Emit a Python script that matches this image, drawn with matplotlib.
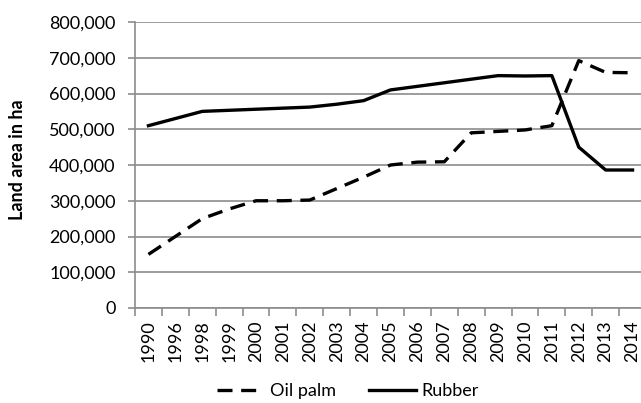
import matplotlib
matplotlib.use("Agg")
import matplotlib.pyplot as plt
import numpy as np

years = ["1990", "1996", "1998", "1999", "2000", "2001", "2002", "2003", "2004", "2005",
         "2006", "2007", "2008", "2009", "2010", "2011", "2012", "2013", "2014"]
oil_palm = [150000, 200000, 250000, 277000, 300000, 300000, 302000, 334000, 366000, 400000,
            408000, 409000, 490000, 494000, 498000, 510000, 692000, 659000, 658000]
rubber = [510000, 530000, 550000, 553000, 556000, 559000, 562000, 570000, 580000, 610000,
          620000, 630000, 640000, 650000, 649000, 650000, 450000, 386000, 386000]
y_ticks = [0, 100000, 200000, 300000, 400000, 500000, 600000, 700000, 800000]

plt.rcParams['font.family'] = ['Lato', 'DejaVu Sans']

W, H = 641, 403
fig = plt.figure(figsize=(W / 100, H / 100), dpi=100)
left, right, top, bottom = 135, 646, 22, 308
ax = fig.add_axes([left / W, 1 - bottom / H, (right - left) / W, (bottom - top) / H])

x = np.arange(len(years))
grid_c = "#8c8c8c"
fs = 13
ax.plot(x, oil_palm, color="black", lw=2.4, dashes=(4.5, 2.6), label="Oil palm",
        dash_capstyle="butt")
ax.plot(x, rubber, color="black", lw=2.4, label="Rubber")

ax.set_xlim(-0.5, len(years) - 0.5)
ax.set_ylim(0, 800000)
ax.set_yticks(y_ticks)
ax.set_yticklabels([f"{v:,}" for v in y_ticks])
ax.set_xticks(x)
ax.set_xticklabels(years, rotation=90)
ax.set_xticks(np.arange(-0.5, len(years), 1), minor=True)
ax.tick_params(axis="x", which="major", length=0, pad=9, labelsize=fs)
ax.tick_params(axis="x", which="minor", length=6, color=grid_c, width=1.2, direction="out")
ax.tick_params(axis="y", length=5, color=grid_c, width=1.2, labelsize=fs, pad=9)

ax.yaxis.grid(True, color=grid_c, lw=1.2)
ax.set_axisbelow(True)
for s in ["top", "right"]:
    ax.spines[s].set_visible(False)
for s in ["left", "bottom"]:
    ax.spines[s].set_color(grid_c)
    ax.spines[s].set_linewidth(1.2)

fig.text(18 / W, 1 - 160 / H, "Land area in ha", rotation=90, ha="center", va="center",
         fontsize=fs, fontweight="bold")

leg = fig.legend(loc="center", bbox_to_anchor=(348 / W, 1 - 391 / H), ncol=2, frameon=False,
                 fontsize=fs, handlelength=2.6, handletextpad=0.35, columnspacing=1.8)

fig.savefig("out.png", dpi=100)
